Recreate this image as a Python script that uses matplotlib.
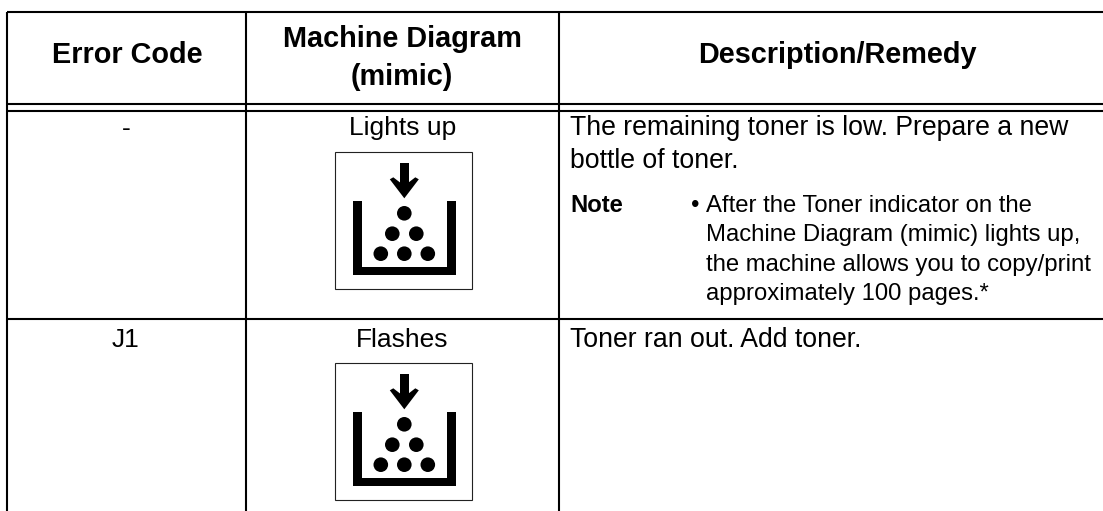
import matplotlib
matplotlib.use('Agg')
import matplotlib.pyplot as plt
from matplotlib.patches import Rectangle, Circle, Polygon

plt.rcParams['font.family'] = 'Liberation Sans'

headers = ['Error Code', 'Machine Diagram', '(mimic)', 'Description/Remedy']
codes = ['-', 'J1']
states = ['Lights up', 'Flashes']
desc_row1 = ['The remaining toner is low. Prepare a new', 'bottle of toner.']
note_label = 'Note'
note_bullet = '•'
note_lines = ['After the Toner indicator on the',
              'Machine Diagram (mimic) lights up,',
              'the machine allows you to copy/print',
              'approximately 100 pages.*']
desc_row2 = 'Toner ran out. Add toner.'

# pixel coordinates, same as the picture
col_x = [7, 245.5, 559]
right_edge = 1103
bottom_edge = 511
row_y = [12, 104, 111, 319]
icon_pos = [(335, 152.3), (335, 363.3)]
dots = [(0, 0), (-12, 20.4), (12, 20.4), (-23.5, 40.4), (0, 40.4), (23.5, 40.4)]

fig = plt.figure(figsize=(11.03, 5.11), dpi=100)
ax = fig.add_axes([0, 0, 1, 1])
ax.set_xlim(0, 1103)
ax.set_ylim(511, 0)
ax.axis('off')


def draw_icon(x, y):
    ax.add_patch(Rectangle((x, y), 136.5, 137, fill=False, ec='#222222', lw=0.8))
    cx = x + 69.3
    # arrow
    ax.add_patch(Rectangle((cx - 4.5, y + 10.5), 9, 24, fc='black', ec='none'))
    ax.add_patch(Polygon([(cx - 14.5, y + 27), (cx - 11, y + 25), (cx - 4.5, y + 30), (cx + 4.5, y + 30),
                          (cx + 11, y + 25), (cx + 14.5, y + 27), (cx, y + 46)], fc='black', ec='none'))
    # bottle
    ax.add_patch(Rectangle((x + 18.3, y + 48.7), 8.4, 74, fc='black', ec='none'))
    ax.add_patch(Rectangle((x + 112.3, y + 48.7), 8.4, 74, fc='black', ec='none'))
    ax.add_patch(Rectangle((x + 18.3, y + 114.4), 102.4, 8.3, fc='black', ec='none'))
    for dx, dy in dots:
        ax.add_patch(Circle((cx + dx, y + 61 + dy), 7.3, fc='black', ec='none'))


for y in row_y:
    ax.plot([col_x[0], right_edge], [y, y], color='black', lw=1.5, solid_capstyle='butt')
for x in col_x:
    ax.plot([x, x], [12, bottom_edge], color='black', lw=1.5, solid_capstyle='butt')

head_fs = 20.8
fs = 19
desc_fs = 19.2
note_fs = 17.2
ax.text(127, 63, headers[0], fontsize=head_fs, fontweight='bold', ha='center', va='baseline')
ax.text(402, 47, headers[1], fontsize=head_fs, fontweight='bold', ha='center', va='baseline')
ax.text(402, 85, headers[2], fontsize=head_fs, fontweight='bold', ha='center', va='baseline')
ax.text(837.5, 63, headers[3], fontsize=head_fs, fontweight='bold', ha='center', va='baseline')

ax.text(126.5, 136, codes[0], fontsize=fs, ha='center', va='baseline')
ax.text(125, 347, codes[1], fontsize=fs, ha='center', va='baseline')
ax.text(402.5, 135, states[0], fontsize=fs, ha='center', va='baseline')
ax.text(402.5, 347, states[1], fontsize=fs, ha='center', va='baseline')

ax.text(570, 135, desc_row1[0], fontsize=desc_fs, va='baseline')
ax.text(570, 168, desc_row1[1], fontsize=desc_fs, va='baseline')
ax.text(570, 212, note_label, fontsize=note_fs, fontweight='bold', va='baseline')
ax.text(691, 212, note_bullet, fontsize=note_fs, va='baseline')
for i, line in enumerate(note_lines):
    ax.text(706.5, 211.5 + i * 29.6, line, fontsize=note_fs, va='baseline')
ax.text(570, 347, desc_row2, fontsize=desc_fs, va='baseline')

for x, y in icon_pos:
    draw_icon(x, y)

plt.savefig('out.png', dpi=100)
